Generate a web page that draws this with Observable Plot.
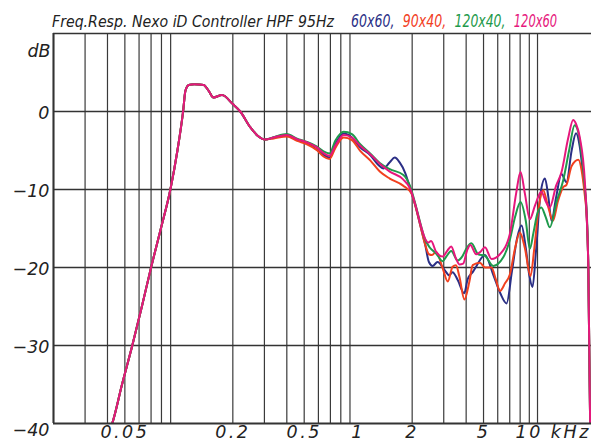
<!DOCTYPE html>
<html>
<head>
<meta charset="utf-8">
<script src="https://cdn.jsdelivr.net/npm/d3@7"></script>
<script src="https://cdn.jsdelivr.net/npm/@observablehq/plot@0.6"></script>
<style>
  html, body { margin: 0; padding: 0; background: #fff; }
  #chart svg { display: block; }
  .heading { font-family: "DejaVu Sans", sans-serif; font-stretch: condensed; font-style: italic; }
</style>
</head>
<body>
<div id="chart"></div>
<script>
// Response below ~0.3 kHz, common to all four settings: [kHz, dB]
const lowBand = [
  [0.040, -41.5], [0.0425, -40], [0.0482, -35], [0.055, -30], [0.0622, -25],
  [0.070, -20], [0.0794, -15], [0.0897, -10], [0.0982, -5], [0.1056, 0],
  [0.1088, 2.65], [0.1135, 3.4], [0.122, 3.5], [0.1375, 3.4], [0.1467, 2.65],
  [0.156, 1.8], [0.174, 2.1], [0.20, 0.95], [0.22, 0.0], [0.25, -2.0],
  [0.275, -3.1], [0.303, -3.6]
];

// 60x60
const resp60x60 = [
  [0.338, -3.33], [0.40, -3.0], [0.456, -3.6], [0.518, -4.05], [0.589, -4.9],
  [0.641, -5.55], [0.692, -5.89], [0.745, -4.2], [0.83, -2.82], [0.923, -3.33],
  [1.026, -4.6], [1.17, -5.6], [1.30, -6.9], [1.38, -7.3], [1.5, -6.5],
  [1.6, -5.9], [1.7, -6.5], [1.83, -7.9], [1.95, -9.9], [2.08, -12.0],
  [2.22, -14.6], [2.36, -17.0], [2.48, -19.3], [2.6, -19.8], [2.77, -19.3],
  [3.03, -20.3], [3.22, -21.0], [3.36, -20.6], [3.59, -21.6], [3.9, -23.3],
  [4.08, -21.5], [4.38, -20.5], [4.57, -19.8], [5.09, -18.4], [5.66, -20.9],
  [6.2, -23.3], [6.72, -24.6], [7.2, -20.5], [7.7, -16.2], [8.15, -14.6],
  [8.6, -17.5], [9.0, -21.0], [9.38, -22.5], [9.8, -18.0], [10.4, -10.5],
  [11.0, -8.6], [11.5, -11.0], [11.97, -14.0], [12.7, -11.0], [13.6, -8.0],
  [14.5, -9.06], [15.5, -5.0], [16.4, -2.8], [17.2, -4.5], [18.0, -8.4],
  [18.7, -12.5], [19.2, -20], [19.7, -42]
];

// 90x40
const resp90x40 = [
  [0.338, -3.45], [0.40, -3.2], [0.456, -3.76], [0.518, -4.2], [0.589, -4.95],
  [0.641, -5.77], [0.692, -6.1], [0.745, -4.7], [0.83, -3.33], [0.923, -3.67],
  [1.026, -5.04], [1.17, -6.3], [1.32, -7.7], [1.5, -8.6], [1.78, -9.5],
  [1.98, -10.5], [2.1, -12.4], [2.22, -14.6], [2.36, -17.0], [2.48, -18.3],
  [2.58, -18.4], [2.72, -18.0], [2.96, -20.1], [3.16, -21.8], [3.36, -19.9],
  [3.51, -19.7], [3.67, -21.2], [3.91, -24.1], [4.17, -21.8], [4.35, -19.7],
  [4.77, -19.4], [5.1, -20.0], [5.54, -20.0], [5.85, -21.5], [6.17, -23.0],
  [6.6, -22.0], [7.01, -20.9], [7.5, -17.5], [7.97, -15.5], [8.5, -17.5],
  [9.14, -21.1], [9.6, -17.5], [10.2, -12.0], [10.75, -10.1], [11.4, -12.0],
  [12.2, -14.0], [13.0, -11.5], [13.9, -9.7], [14.5, -9.4], [15.5, -7.0],
  [16.9, -6.2], [17.6, -7.5], [18.3, -10.5], [18.8, -13.5], [19.2, -20],
  [19.7, -42]
];

// 120x40
const resp120x40 = [
  [0.338, -3.3], [0.40, -2.9], [0.456, -3.5], [0.518, -3.9], [0.589, -4.5],
  [0.641, -5.12], [0.692, -5.38], [0.745, -3.76], [0.83, -2.6], [0.923, -2.9],
  [1.026, -4.2], [1.17, -5.4], [1.32, -6.6], [1.5, -7.4], [1.78, -8.1],
  [1.95, -9.6], [2.08, -11.8], [2.22, -14.3], [2.36, -16.4], [2.5, -17.4],
  [2.72, -18.2], [2.96, -19.2], [3.1, -18.6], [3.3, -17.9], [3.59, -19.1],
  [3.8, -18.6], [4.05, -17.4], [4.28, -16.9], [4.67, -18.3], [5.09, -18.5],
  [5.66, -19.8], [6.44, -18.7], [7.0, -16.5], [7.5, -13.5], [8.04, -11.6],
  [8.6, -14.0], [9.06, -17.6], [9.5, -15.5], [10.0, -13.0], [10.5, -12.3],
  [11.1, -13.5], [11.7, -14.85], [12.8, -11.5], [13.9, -8.84], [15.0, -5.0],
  [16.1, -1.76], [16.8, -2.5], [17.6, -5.4], [18.4, -10], [18.9, -14],
  [19.2, -20], [19.7, -42]
];

// 120x60
const resp120x60 = [
  [0.338, -3.33], [0.40, -3.0], [0.456, -3.54], [0.518, -3.97], [0.589, -4.6],
  [0.641, -5.34], [0.692, -5.68], [0.745, -4.4], [0.83, -3.0], [0.923, -3.33],
  [1.026, -4.4], [1.17, -5.5], [1.32, -6.7], [1.5, -7.7], [1.78, -8.7],
  [1.95, -9.9], [2.08, -11.9], [2.22, -14.4], [2.36, -16.3], [2.46, -16.8],
  [2.55, -16.6], [2.72, -18.0], [2.96, -18.6], [3.15, -17.8], [3.3, -17.3],
  [3.51, -18.85], [3.67, -19.6], [3.85, -19.5], [4.05, -17.8], [4.22, -17.1],
  [4.55, -18.3], [4.8, -18.0], [5.09, -17.4], [5.54, -18.9], [6.17, -18.3],
  [7.01, -15.7], [7.6, -10.5], [8.04, -7.77], [8.5, -10.5], [9.06, -13.8],
  [9.7, -12.0], [10.5, -10.3], [11.1, -11.5], [11.7, -12.3], [12.7, -9.5],
  [13.6, -7.8], [14.8, -3.5], [15.8, -1.1], [16.4, -1.6], [17.2, -3.3],
  [18.4, -9.3], [19.2, -20], [19.7, -42]
];

const seriesNames = ["60x60", "90x40", "120x40", "120x60"];
const seriesResp = [resp60x60, resp90x40, resp120x40, resp120x60];
const seriesColors = ["#2b2f86", "#f2401f", "#1e9a4b", "#e6177c"];

const titleText = "Freq.Resp. Nexo iD Controller HPF 95Hz";
const xTickValues = [0.05, 0.2, 0.5, 1, 2, 5];
const xTickLabels = ["0.05", "0.2", "0.5", "1", "2", "5"];
const xLastTick = 10;
const xLastLabel = "10 kHz";
const yTickValues = [0, -10, -20, -30];
const yTickLabels = ["0", "\u221210", "\u221220", "\u221230"];
const yBottomValue = -40;
const yBottomLabel = "\u221240";
const yUnit = "dB";

// log-frequency grid: 20 Hz … 10 kHz at 1-2-3…9 steps
const gridKHz = [0.01, 0.1, 1].flatMap(d => d3.range(2, 10).map(m => +(m * d).toPrecision(3)))
  .filter(v => v >= 0.02).concat([10]);
const gridDb = [0, -10, -20, -30];

const rows = seriesNames.flatMap((name, i) =>
  lowBand.concat(seriesResp[i]).map(([f, db]) => ({ series: name, f, db }))
);

const labelFont = "'DejaVu Sans', sans-serif";

const chart = Plot.plot({
  width: 592,
  height: 448,
  marginLeft: 53,
  marginRight: 1,
  marginTop: 33,
  marginBottom: 25,
  x: { type: "log", domain: [0.02, 20], axis: null },
  y: { domain: [-40, 10], axis: null },
  color: { domain: seriesNames, range: seriesColors },
  style: { background: "#fff", overflow: "visible" },
  marks: [
    Plot.ruleX(gridKHz, { stroke: "#3a3a3a", strokeWidth: 1.2 }),
    Plot.ruleY(gridDb, { stroke: "#333", strokeWidth: 1.6 }),
    Plot.line(rows, {
      x: "f", y: "db", z: "series", stroke: "series",
      strokeWidth: 2, curve: "monotone-x", clip: true
    }),
    Plot.ruleY([10], { stroke: "#333", strokeWidth: 1.6 }),
    Plot.ruleY([-40], { stroke: "#333", strokeWidth: 2 }),
    Plot.ruleX([0.02], { stroke: "#333", strokeWidth: 2 }),
    Plot.text(yTickValues, {
      y: d => d, frameAnchor: "left", dx: -4, dy: 2, textAnchor: "end",
      text: (d, i) => yTickLabels[i],
      fontFamily: labelFont, fontStyle: "italic", fontSize: 17.5, fill: "#222"
    }),
    Plot.text([yBottomValue], {
      y: d => d, frameAnchor: "left", dx: -4, dy: 7, textAnchor: "end",
      text: () => yBottomLabel,
      fontFamily: labelFont, fontStyle: "italic", fontSize: 17.5, fill: "#222"
    }),
    Plot.text([yUnit], {
      frameAnchor: "top-left", dx: -3, dy: 11, textAnchor: "end",
      text: d => d,
      fontFamily: labelFont, fontStyle: "italic", fontSize: 17.5, fill: "#222"
    }),
    Plot.text(xTickValues, {
      x: d => d, frameAnchor: "bottom", dx: 0, dy: 14,
      text: (d, i) => xTickLabels[i],
      fontFamily: labelFont, fontStyle: "italic", fontSize: 17.5, fill: "#222",
      className: "xlabel"
    }),
    Plot.text([xLastTick], {
      x: d => d, frameAnchor: "bottom", dx: -22, dy: 14, textAnchor: "start",
      text: () => xLastLabel,
      fontFamily: labelFont, fontStyle: "italic", fontSize: 17.5, fill: "#222",
      className: "xlabel"
    })
  ]
});

const svg = d3.select(chart);
// wider spacing for the frequency labels
svg.selectAll(".xlabel text").attr("letter-spacing", 2.5);

// title, then the coloured series names, in a condensed italic face
const titleY = 27;
const charW = 7.4; // advance per character of the series names
svg.append("text")
  .attr("class", "heading")
  .attr("x", 52).attr("y", titleY)
  .attr("text-anchor", "start")
  .attr("font-size", 16.4)
  .attr("fill", "#222")
  .attr("textLength", 282)
  .attr("lengthAdjust", "spacingAndGlyphs")
  .text(titleText);

let col = 0;
seriesNames.forEach((name, i) => {
  const label = name + (i < seriesNames.length - 1 ? "," : "");
  svg.append("text")
    .attr("class", "heading")
    .attr("x", 351 + col * charW).attr("y", titleY)
    .attr("text-anchor", "start")
    .attr("font-size", 17)
    .attr("fill", seriesColors[i])
    .attr("textLength", label.length * charW - 1)
    .attr("lengthAdjust", "spacingAndGlyphs")
    .text(label);
  col += label.length + 1;
});

document.getElementById("chart").appendChild(chart);
</script>
</body>
</html>
